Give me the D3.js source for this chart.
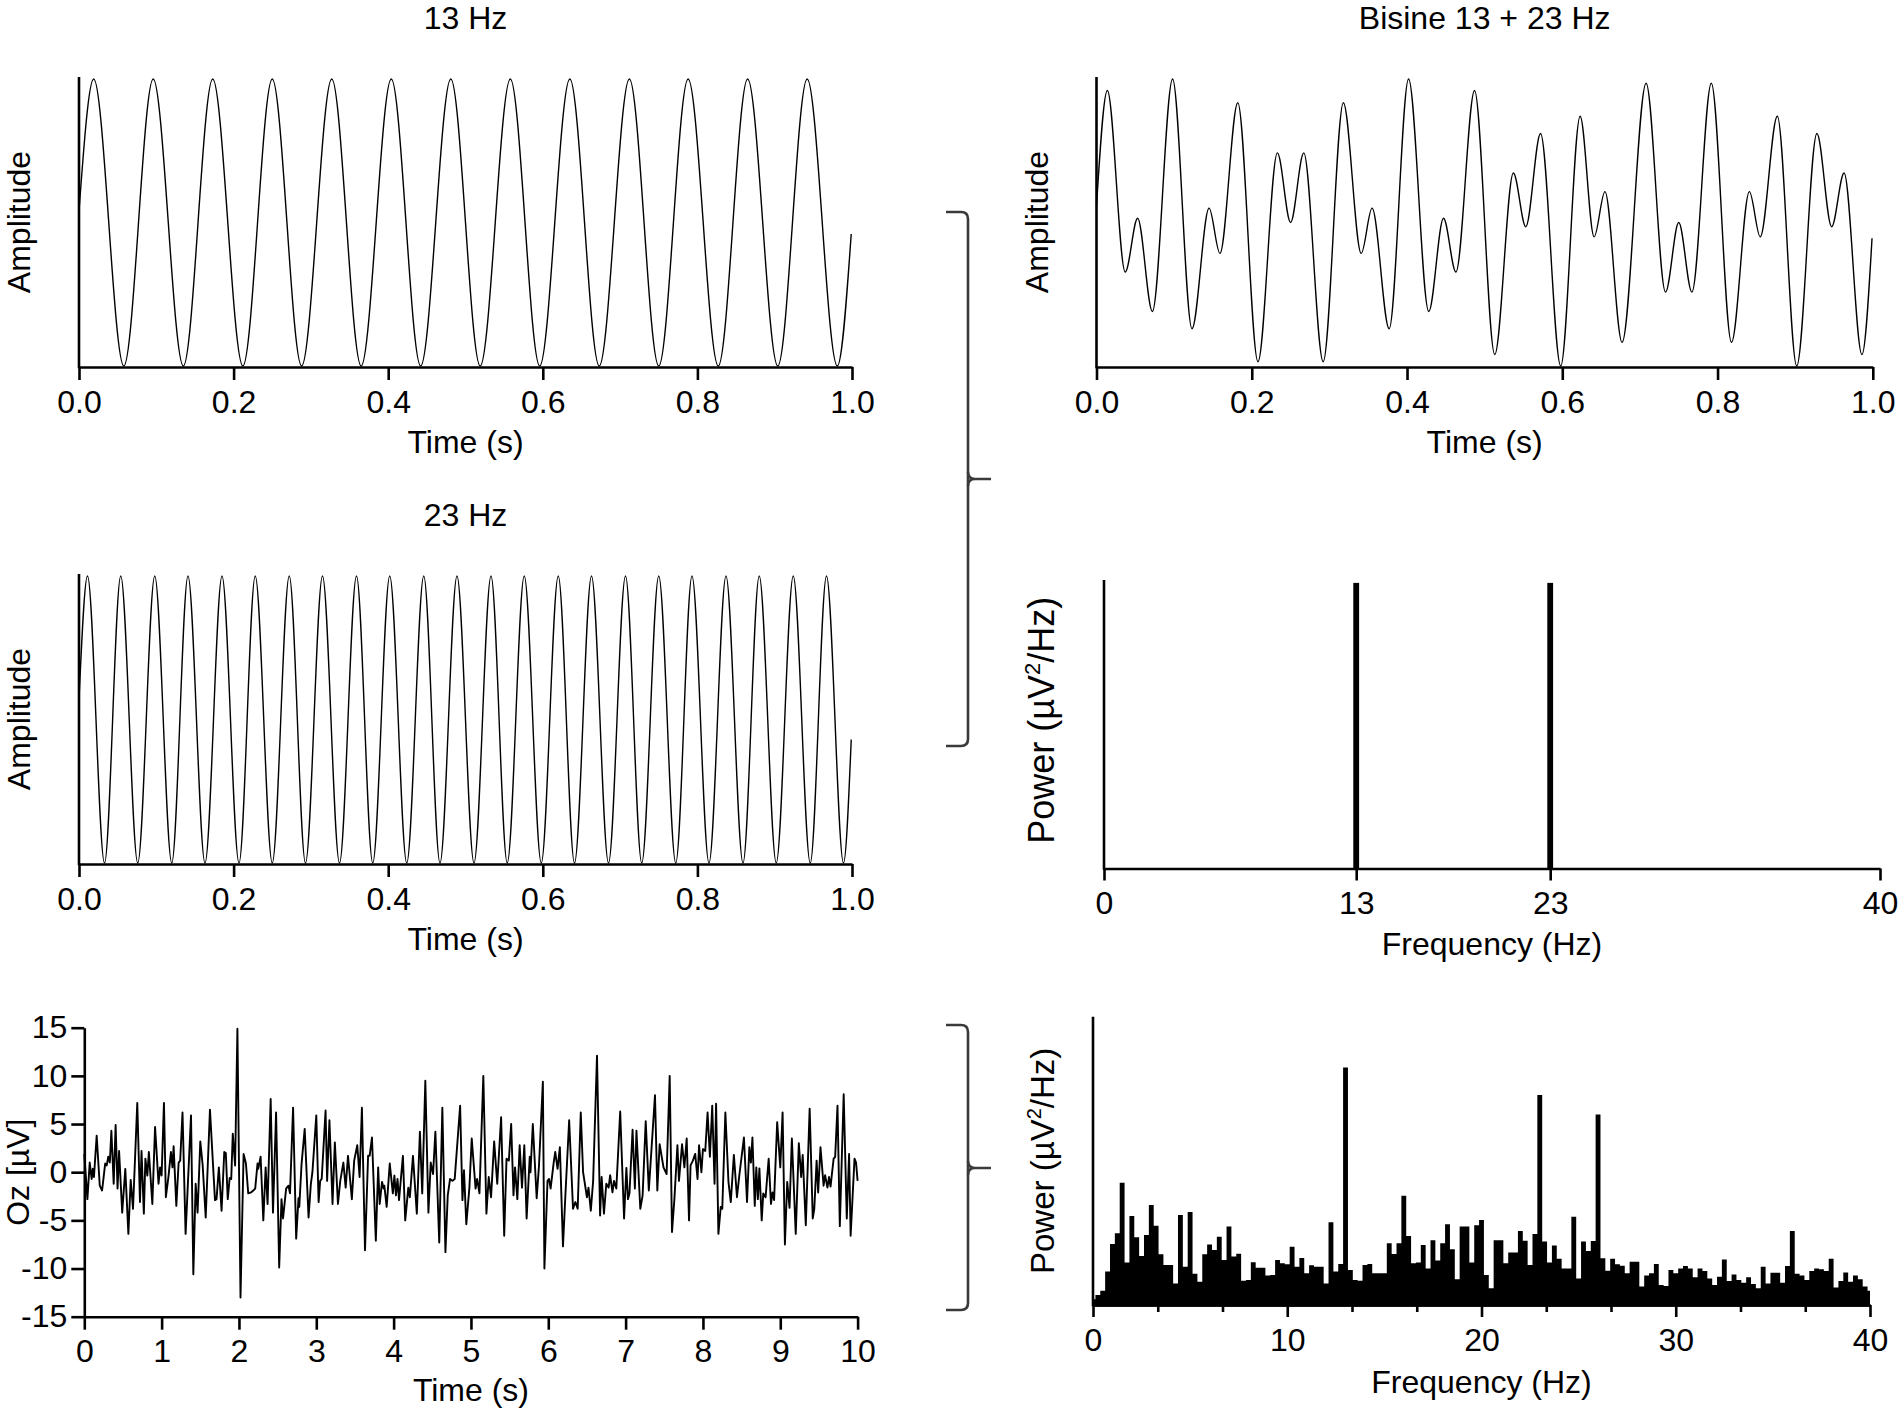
<!DOCTYPE html>
<html lang="en">

<head>
    <meta charset="utf-8">
    <title>Sine waves, EEG trace and power spectra</title>
    <script src="https://d3js.org/d3.v7.min.js"></script>
    <style type="text/css">
        body {
            margin: 0;
            background-color: #fff;
        }

        svg {
            display: block;
            background-color: #fff;
        }

        text {
            font-family: "Liberation Sans", Arial, Helvetica, sans-serif;
            font-size: 32px;
            fill: #000;
        }

        .axis path,
        .axis line {
            stroke: #000;
            stroke-width: 2.6;
        }

        .yline {
            stroke: #000;
            stroke-width: 2.6;
        }

        .wave {
            fill: none;
            stroke: #000;
            stroke-width: 1.4;
        }

        .eeg {
            fill: none;
            stroke: #000;
            stroke-width: 1.9;
            stroke-linejoin: round;
        }

        .brace {
            fill: none;
            stroke: #3a3a3a;
            stroke-width: 2.6;
        }
    </style>
</head>

<body>
    <div id="chart"></div>
    <script type="text/JavaScript">

        // ---------- data (read off the figure) ----------

        var timeTicks = [0, 0.2, 0.4, 0.6, 0.8, 1.0];

        // 13 Hz sine: start, every peak / trough, last sample
        var sine13 = [[0, 0.08], [0.019, 1], [0.058, -1], [0.096, 1], [0.135, -1], [0.173, 1], [0.212, -1],
            [0.25, 1], [0.288, -1], [0.327, 1], [0.365, -1], [0.404, 1], [0.442, -1], [0.481, 1], [0.519, -1],
            [0.558, 1], [0.596, -1], [0.635, 1], [0.673, -1], [0.712, 1], [0.75, -1], [0.788, 1], [0.827, -1],
            [0.865, 1], [0.904, -1], [0.942, 1], [0.981, -1], [0.999, -0.08]];

        // 23 Hz sine
        var sine23 = [[0, 0.14], [0.011, 1], [0.033, -1], [0.054, 1], [0.076, -1], [0.098, 1], [0.120, -1],
            [0.141, 1], [0.163, -1], [0.185, 1], [0.207, -1], [0.228, 1], [0.250, -1], [0.272, 1], [0.293, -1],
            [0.315, 1], [0.337, -1], [0.359, 1], [0.380, -1], [0.402, 1], [0.424, -1], [0.446, 1], [0.467, -1],
            [0.489, 1], [0.511, -1], [0.533, 1], [0.554, -1], [0.576, 1], [0.598, -1], [0.620, 1], [0.641, -1],
            [0.663, 1], [0.685, -1], [0.707, 1], [0.728, -1], [0.750, 1], [0.772, -1], [0.793, 1], [0.815, -1],
            [0.837, 1], [0.859, -1], [0.880, 1], [0.902, -1], [0.924, 1], [0.946, -1], [0.967, 1], [0.989, -1],
            [0.999, -0.14]];

        // bisine 13 + 23 Hz
        var bisine = [[0, 0.23], [0.014, 1.84], [0.037, -0.69], [0.053, 0.06], [0.072, -1.24], [0.098, 2.0],
            [0.123, -1.48], [0.145, 0.2], [0.159, -0.43], [0.182, 1.67], [0.208, -1.94], [0.233, 0.97],
            [0.25, 0.0], [0.267, 0.97], [0.292, -1.94], [0.318, 1.67], [0.341, -0.43], [0.355, 0.2],
            [0.377, -1.48], [0.402, 2.0], [0.428, -1.24], [0.447, 0.06], [0.463, -0.69], [0.487, 1.84],
            [0.513, -1.84], [0.537, 0.69], [0.553, -0.06], [0.572, 1.24], [0.598, -2.0], [0.623, 1.48],
            [0.641, -0.2], [0.655, 0.43], [0.677, -1.67], [0.708, 1.94], [0.733, -0.97], [0.75, 0.0],
            [0.767, -0.97], [0.792, 1.94], [0.818, -1.67], [0.841, 0.43], [0.855, -0.2], [0.877, 1.48],
            [0.902, -2.0], [0.928, 1.24], [0.947, -0.06], [0.963, 0.69], [0.986, -1.84], [0.999, -0.22]];

        // bisine spectrum
        var bisineFreqTicks = [0, 13, 23, 40];
        var bisinePeakFreq = [13, 23];
        var bisinePeakPower = [0.99, 0.99];

        // Oz EEG trace, [time s, µV]
        var eegTimeTicks = [0, 1, 2, 3, 4, 5, 6, 7, 8, 9, 10];
        var eegValueTicks = [-15, -10, -5, 0, 5, 10, 15];
        var eegTrace = [
            [0, 1.9], [0.04, -2.8], [0.07, 1.0], [0.095, -0.7], [0.11, 0.35], [0.125, -0.5], [0.16, 3.8],
            [0.2, -1.4], [0.23, -1.9], [0.27, 0.9], [0.29, 0.7], [0.31, 1.6], [0.33, 1.0], [0.35, 4.3],
            [0.38, -1.2], [0.405, 4.9], [0.43, -1.7], [0.45, 2.2], [0.49, -4.2], [0.53, 0.35], [0.57, -6.4],
            [0.6, -0.8], [0.63, -3.8], [0.685, 7.2], [0.72, -3.1], [0.74, 2.2], [0.77, -4.3], [0.79, 1.4],
            [0.815, -0.35], [0.835, 2.1], [0.88, -3.3], [0.915, 4.7], [0.96, -1.2], [0.98, 0.5], [1.0, -0.35],
            [1.03, 7.2], [1.055, -2.6], [1.09, -0.35], [1.12, 2.1], [1.14, 0.5], [1.155, 2.7], [1.19, -3.5],
            [1.22, 1.0], [1.24, 1.2], [1.27, 6.2], [1.31, -6.4], [1.38, 5.9], [1.41, -10.6], [1.44, -1.2],
            [1.465, -4.2], [1.5, 3.2], [1.53, 0.8], [1.57, -4.7], [1.625, 6.5], [1.69, -2.9], [1.71, -2.8],
            [1.74, 0.5], [1.775, -4.0], [1.81, 2.1], [1.83, 2.0], [1.855, -2.8], [1.88, -0.6], [1.9, -0.7],
            [1.92, 4.0], [1.95, 0.7], [1.98, 14.9], [2.02, -13.0], [2.06, 1.9], [2.09, 0.9], [2.12, -2.2],
            [2.155, -2.1], [2.185, -1.9], [2.21, -1.7], [2.24, 0.9], [2.25, 0.35], [2.28, 1.6], [2.315, -5.0],
            [2.345, 0.5], [2.37, -3.3],
            [2.41, 7.6], [2.44, -4.2], [2.48, 6.2], [2.52, -9.9], [2.55, -2.8], [2.57, -4.8], [2.61, -1.7],
            [2.64, -1.4], [2.66, -2.2], [2.70, 6.7], [2.74, -6.9], [2.77, -2.7], [2.78, -3.6], [2.81, 0.9],
            [2.85, 4.5], [2.90, -4.7], [2.93, -1.2], [2.95, 0], [3.0, 5.9], [3.03, -3.1], [3.05, -0.9],
            [3.07, -0.7], [3.12, 6.4], [3.14, -0.9], [3.17, 5.4], [3.21, -3.3], [3.24, 3.1], [3.28, -3.3],
            [3.31, -0.9], [3.35, 1.0], [3.38, -1.6], [3.41, 1.7], [3.46, -2.8], [3.49, 1.2], [3.53, 2.8],
            [3.56, -0.5], [3.59, 6.7], [3.63, -8.1], [3.67, 1.7], [3.69, 1.7], [3.72, 3.6], [3.77, -7.1],
            [3.80, 0.5], [3.82, -3.3], [3.85, -1.0], [3.87, -1.7], [3.88, -1.4], [3.91, -3.6], [3.95, 0.9],
            [3.99, -2.2], [4.01, -0.35], [4.03, -2.4], [4.05, -0.7], [4.07, -2.9], [4.12, 1.7], [4.15, -5.0],
            [4.19, -1.6], [4.21, -2.6], [4.25, 1.7], [4.30, -4.3], [4.34, 4.2], [4.37, -2.2], [4.41, 9.5],
            [4.45, -4.2], [4.48, 1.0], [4.51, -0.2], [4.54, 4.2], [4.59, -7.3], [4.63, 6.7], [4.67, -8.3],
            [4.70, -2.4], [4.73, -0.7], [4.76, -0.9], [4.79, -0.7], [4.86, 6.9], [4.89, -2.9], [4.91, 0.2],
            [4.94, -5.4],
            [4.98, -1.6], [5.01, 3.5], [5.06, -1.7], [5.08, -0.7], [5.11, -2.2], [5.16, 10.0], [5.20, -4.3],
            [5.23, -0.5], [5.26, -2.6], [5.30, 3.2], [5.34, -1.2], [5.39, 5.7], [5.43, -6.6], [5.46, 1.4],
            [5.49, 1.2], [5.52, 5.0], [5.55, -2.4], [5.57, 0.5], [5.60, -2.8], [5.63, 2.8], [5.66, -1.6],
            [5.69, 2.8], [5.72, -4.8], [5.76, 1.6], [5.77, 0], [5.80, 5.0], [5.85, -2.7], [5.88, 0.7],
            [5.93, 9.4], [5.95, -10.0], [5.99, -0.9], [6.01, -0.7], [6.03, -1.7], [6.07, 1.0], [6.09, 2.1],
            [6.12, 0.35], [6.15, 2.6], [6.19, -7.7], [6.22, -2.6], [6.27, 5.4], [6.32, -3.8], [6.35, -3.1],
            [6.38, -3.8], [6.42, 6.2], [6.45, 0], [6.50, -2.6], [6.52, -1.6], [6.55, -4.0], [6.58, -0.9],
            [6.63, 12.1], [6.67, -4.5], [6.69, -0.5], [6.72, -4.3], [6.75, -1.2], [6.78, -1.6], [6.80, -0.3],
            [6.83, -2.1], [6.85, -0.9], [6.88, -1.7], [6.93, 6.3], [6.98, -4.8], [7.01, 0.45], [7.03, -2.8],
            [7.05, -2.2], [7.09, 4.4], [7.12, -1.7], [7.14, 4.3], [7.19, -3.8], [7.22, -2.4], [7.26, 5.3],
            [7.30, -1.9], [7.38, 8.0], [7.41, -1.9],
            [7.44, 2.9], [7.49, 0.5], [7.53, -0.2], [7.57, 10.0], [7.60, -6.2], [7.63, -2.9], [7.67, 2.8],
            [7.69, -0.9], [7.73, 2.9], [7.76, 0.5], [7.79, 3.5], [7.82, -5.0], [7.84, 0.7], [7.87, 1.2],
            [7.90, 1.9], [7.93, -0.7], [7.95, 2.8], [7.98, 0], [8.0, 2.4], [8.03, 2.2], [8.06, 6.2],
            [8.09, 1.6], [8.12, 6.9], [8.15, -1.2], [8.17, 7.1], [8.20, -6.4], [8.23, -3.6], [8.25, -3.8],
            [8.29, 6.2], [8.33, -1.0], [8.36, -3.1], [8.40, 1.8], [8.44, -2.6], [8.47, -0.35], [8.53, 3.6],
            [8.57, -3.1], [8.60, 2.6], [8.62, 1.0], [8.64, 3.6], [8.67, -3.5], [8.69, 0.5], [8.71, -2.8],
            [8.73, 0.4], [8.76, -5.0], [8.78, -2.2], [8.81, -2.6], [8.85, 1.4], [8.88, -3.3], [8.90, -2.1],
            [8.92, -2.9], [8.96, 5.2], [9.0, 0.5], [9.03, 6.2], [9.06, -7.5], [9.09, -1.0], [9.12, -3.7],
            [9.15, 3.5], [9.20, -6.4], [9.24, 3.0], [9.27, -0.5], [9.29, 1.8], [9.33, -5.5], [9.38, 6.6],
            [9.42, -4.8], [9.44, -3.8], [9.47, 1.2], [9.49, -2.1], [9.52, 2.6], [9.56, -1.4], [9.58, -0.3],
            [9.61, -1.6], [9.63, -0.5], [9.65, -1.5], [9.69, 1.4], [9.71, 1.6], [9.74, 6.9], [9.77, -5.6],
            [9.82, 8.1], [9.86, -4.8], [9.89, 1.9], [9.91, -6.6], [9.96, 1.4], [9.98, 1.0], [10.0, -0.9]
        ];

        // EEG power spectrum, one value per 0.25 Hz bin from 0 to 40 Hz (arbitrary units)
        var eegFreqStep = 0.25;
        var eegPower = [
            2.0, 3.5, 4.9, 11.6, 21.2, 24.9, 42.4, 14.7, 30.9, 23.5,
            17.0, 24.3, 34.7, 27.5, 17.6, 13.9, 13.9, 7.5, 31.2, 13.3,
            32.3, 10.8, 8.1, 17.6, 21.0, 19.1, 23.7, 15.6, 27.2, 16.8,
            17.8, 8.4, 8.7, 14.8, 12.9, 12.9, 10.2, 10.4, 15.6, 14.5,
            14.1, 20.2, 13.3, 16.3, 11.0, 13.8, 13.3, 13.3, 7.5, 28.7,
            11.6, 14.2, 82.4, 12.1, 8.7, 8.4, 13.9, 14.2, 11.0, 11.0,
            11.0, 21.4, 17.7, 21.4, 37.9, 23.9, 14.5, 14.7, 20.8, 12.7,
            22.5, 15.4, 21.4, 28.0, 19.3, 8.9, 27.2, 27.2, 14.7, 27.7,
            29.5, 10.4, 5.8, 22.5, 22.5, 14.5, 18.2, 18.2, 25.7, 22.3,
            13.9, 24.6, 72.8, 22.0, 14.7, 20.6, 16.0, 12.7, 12.7, 30.6,
            9.2, 22.0, 18.7, 22.2, 66.1, 16.2, 11.9, 16.0, 14.1, 13.6,
            11.0, 15.0, 15.0, 6.4, 10.2, 11.0, 14.2, 6.9, 6.6, 12.1,
            11.0, 12.7, 13.5, 12.7, 9.6, 12.7, 11.8, 9.2, 6.9, 9.8,
            15.8, 8.3, 10.6, 8.7, 7.7, 9.6, 7.3, 5.8, 13.3, 7.5,
            11.2, 11.2, 7.7, 13.5, 25.7, 10.8, 10.2, 8.7, 11.8, 12.7,
            12.4, 11.8, 16.0, 6.1, 8.3, 11.3, 8.1, 10.2, 8.9, 6.4, 4.9
        ];
        var eegFreqLabelTicks = [0, 10, 20, 30, 40];
        var eegFreqMinorTicks = [10 / 3, 20 / 3, 40 / 3, 50 / 3, 70 / 3, 80 / 3, 100 / 3, 110 / 3];

        // ---------- layout ----------
        var width = 1902, height = 1415;

        var svg = d3.select("#chart")
            .append("svg")
            .attr("width", width)
            .attr("height", height);

        // panel boxes: left/right of the x axis, top of the y axis, y of the x axis
        var pA = { left: 79, right: 852, top: 77, bottom: 367 };
        var pB = { left: 79, right: 852, top: 574, bottom: 864 };
        var pC = { left: 84.3, right: 857.6, top: 1027.7, bottom: 1316.7 };
        var pD = { left: 1096.5, right: 1872.8, top: 77, bottom: 367 };
        var pE = { left: 1104, right: 1880, top: 580, bottom: 868.5 };
        var pF = { left: 1093, right: 1870, top: 1016.7, bottom: 1305 };

        function bottomAxis(scale, y, ticks, fmt, size, pad) {
            return svg.append("g")
                .attr("class", "axis")
                .attr("transform", "translate(0," + y + ")")
                .call(d3.axisBottom(scale)
                    .tickValues(ticks)
                    .tickFormat(fmt)
                    .tickSize(size)
                    .tickSizeOuter(0)
                    .tickPadding(pad));
        }

        function yLine(p) {
            svg.append("line")
                .attr("class", "yline")
                .attr("x1", p.left).attr("x2", p.left)
                .attr("y1", p.bottom + 1.3).attr("y2", p.top);
        }

        function title(txt, x, y) {
            return svg.append("text")
                .attr("x", x).attr("y", y)
                .attr("text-anchor", "middle")
                .text(txt);
        }

        function sideTitle(txt, x, y) {
            return svg.append("text")
                .attr("transform", "translate(" + x + "," + y + ") rotate(-90)")
                .attr("text-anchor", "middle")
                .text(txt);
        }

        function powerTitle(x, y, size) {
            var t = sideTitle("", x, y).style("font-size", size + "px");
            t.append("tspan").text("Power (µV");
            t.append("tspan").attr("dy", -size * 0.4).style("font-size", Math.round(size * 0.62) + "px").text("2");
            t.append("tspan").attr("dy", size * 0.4).text("/Hz)");
        }

        var oneDecimal = d3.format(".1f");

        // ---------- sine panels ----------
        function wavePanel(p, data, yMax, name) {
            var x = d3.scaleLinear().domain([0, 1]).range([p.left, p.right]);
            var y = d3.scaleLinear().domain([-yMax, yMax]).range([p.bottom - 1, p.top + 2]);

            var line = d3.line()
                .curve(d3.curveMonotoneX)
                .x(function(d) { return x(d[0]); })
                .y(function(d) { return y(d[1]); });

            svg.append("path")
                .datum(data)
                .attr("class", "wave")
                .attr("d", line);

            yLine(p);
            bottomAxis(x, p.bottom, timeTicks, oneDecimal, 13, 10);

            var cx = (p.left + p.right) / 2;
            if (name) title(name, cx, p.top - 48);
            title("Time (s)", cx, p.bottom + 86);
            sideTitle("Amplitude", p.left - 49, (p.top + p.bottom) / 2);
        }

        wavePanel(pA, sine13, 1, "13 Hz");
        wavePanel(pB, sine23, 1, "23 Hz");
        wavePanel(pD, bisine, 2, "Bisine 13 + 23 Hz");

        // ---------- bisine spectrum ----------
        (function() {
            var p = pE;
            var x = d3.scaleLinear().domain([0, 40]).range([p.left, p.right]);
            var y = d3.scaleLinear().domain([0, 1]).range([p.bottom, p.top]);
            var w = x(0.3) - x(0);

            svg.append("g")
                .selectAll("rect")
                .data(bisinePeakFreq)
                .enter().append("rect")
                .attr("x", function(d) { return x(d) - w / 2; })
                .attr("width", w)
                .attr("y", function(d, i) { return y(bisinePeakPower[i]); })
                .attr("height", function(d, i) { return p.bottom - y(bisinePeakPower[i]); })
                .attr("fill", "#000");

            yLine(p);
            bottomAxis(x, p.bottom, bisineFreqTicks, d3.format("d"), 12, 11);
            title("Frequency (Hz)", (p.left + p.right) / 2, p.bottom + 86);
            powerTitle(1054, (p.top + p.bottom) / 2 - 4, 36);
        })();

        // ---------- EEG trace ----------
        (function() {
            var p = pC;
            var x = d3.scaleLinear().domain([0, 10]).range([p.left, p.right]);
            var y = d3.scaleLinear().domain([-15, 15]).range([p.bottom, p.top]);

            svg.append("path")
                .datum(eegTrace)
                .attr("class", "eeg")
                .attr("d", d3.line()
                    .x(function(d) { return x(d[0]); })
                    .y(function(d) { return y(d[1]); }));

            svg.append("g")
                .attr("class", "axis")
                .attr("transform", "translate(" + p.left + ",0)")
                .call(d3.axisLeft(y)
                    .tickValues(eegValueTicks)
                    .tickFormat(function(d) { return String(d); })
                    .tickSize(13)
                    .tickSizeOuter(0)
                    .tickPadding(4));

            bottomAxis(x, p.bottom, eegTimeTicks, d3.format("d"), 13, 10);
            title("Time (s)", (p.left + p.right) / 2, p.bottom + 84);
            sideTitle("Oz [µV]", 29, (p.top + p.bottom) / 2);
        })();

        // ---------- EEG spectrum ----------
        (function() {
            var p = pF;
            var x = d3.scaleLinear().domain([0, 40]).range([p.left, p.right]);
            var y = d3.scaleLinear().domain([0, 100]).range([p.bottom, p.top]);

            svg.append("path")
                .datum(eegPower)
                .attr("fill", "#000")
                .attr("d", d3.area()
                    .curve(d3.curveStep)
                    .x(function(d, i) { return x(i * eegFreqStep); })
                    .y0(p.bottom)
                    .y1(function(d) { return y(d); }));

            yLine(p);
            bottomAxis(x, p.bottom, eegFreqMinorTicks, function() { return ""; }, 7, 0);
            bottomAxis(x, p.bottom, eegFreqLabelTicks, d3.format("d"), 12, 11);
            title("Frequency (Hz)", (p.left + p.right) / 2, p.bottom + 88);
            powerTitle(1054, (p.top + p.bottom) / 2, 33);
        })();

        // ---------- braces joining the panels ----------
        function brace(top, mid, bottom) {
            var xs = 946, xv = 968, xn = 991;
            svg.append("path")
                .attr("class", "brace")
                .attr("d", "M" + xs + "," + top + " L" + (xv - 7) + "," + top +
                    " Q" + xv + "," + top + " " + xv + "," + (top + 7) +
                    " L" + xv + "," + (bottom - 7) +
                    " Q" + xv + "," + bottom + " " + (xv - 7) + "," + bottom +
                    " L" + xs + "," + bottom);
            svg.append("path")
                .attr("class", "brace")
                .attr("d", "M" + xv + "," + (mid - 7) + " Q" + xv + "," + mid + " " + (xv + 7) + "," + mid +
                    " L" + xn + "," + mid + " M" + xv + "," + (mid + 7) + " Q" + xv + "," + mid + " " + (xv + 7) + "," + mid);
        }

        brace(212, 479, 746);
        brace(1025, 1168, 1310);

    </script>
</body>

</html>
